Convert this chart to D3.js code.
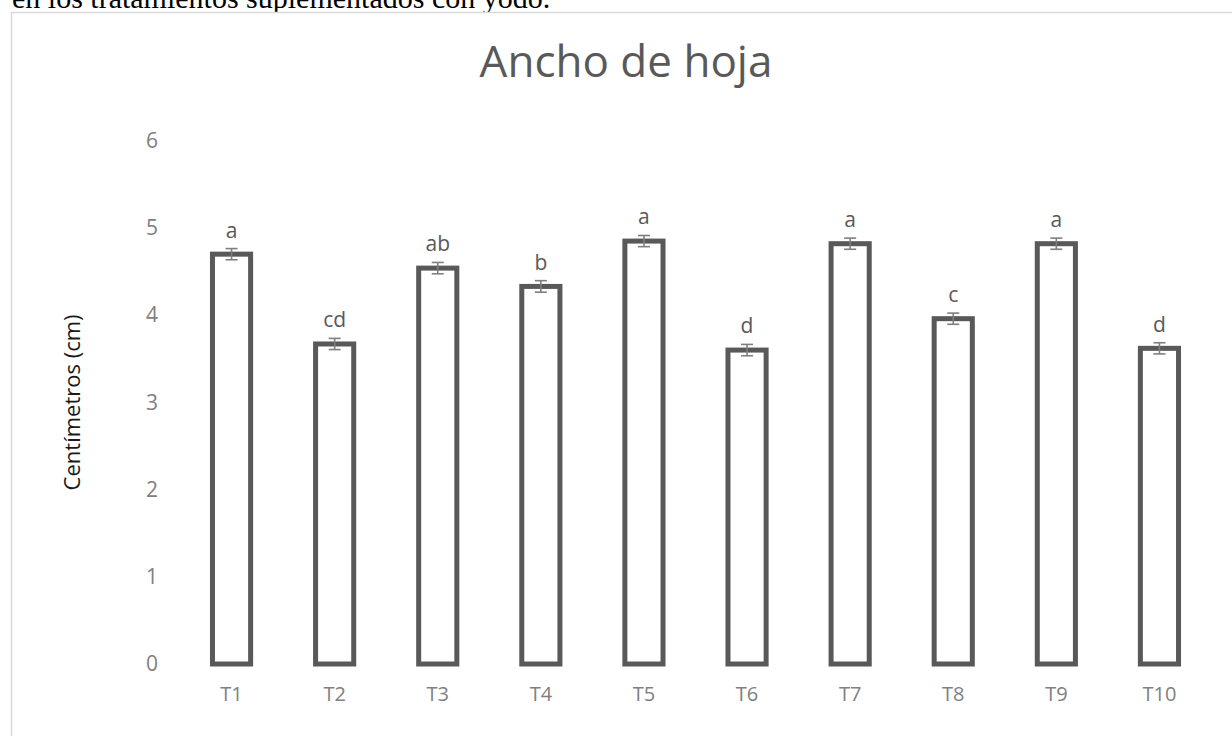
<!DOCTYPE html>
<html>
<head>
<meta charset="utf-8">
<script src="https://cdn.jsdelivr.net/npm/d3@7"></script>
<style>
  html, body { margin: 0; padding: 0; background: #fff; overflow: hidden; }
  svg { display: block; }
</style>
</head>
<body>
<svg id="chart" width="1232" height="736"></svg>
<script>
// Leaf width per treatment (cm), standard error and significance letters
const categories = ["T1", "T2", "T3", "T4", "T5", "T6", "T7", "T8", "T9", "T10"];
const values = [4.70, 3.67, 4.54, 4.33, 4.85, 3.60, 4.82, 3.96, 4.82, 3.62];
const errors = [0.064, 0.064, 0.065, 0.066, 0.064, 0.065, 0.064, 0.064, 0.064, 0.064];
const letters = ["a", "cd", "ab", "b", "a", "d", "a", "c", "a", "d"];
const yTicks = [0, 1, 2, 3, 4, 5, 6];

const svg = d3.select("#chart");

// Caption line of the surrounding document, clipped at the top
svg.append("text")
  .attr("x", 12).attr("y", 8)
  .attr("font-family", "'Liberation Serif', 'Times New Roman', serif")
  .attr("font-size", 30)
  .attr("fill", "#000")
  .text("en los tratamientos suplementados con yodo.");

// Chart frame
svg.append("rect")
  .attr("x", 11.5).attr("y", 12.5)
  .attr("width", 1240).attr("height", 740)
  .attr("fill", "#fff")
  .attr("stroke", "#d9d9d9")
  .attr("stroke-width", 1.5);

const plot = { left: 180, right: 1211, top: 140.8, bottom: 664 };

const x = d3.scaleBand()
  .domain(categories)
  .range([plot.left, plot.right])
  .paddingInner(0.63)
  .paddingOuter(0.315);

const y = d3.scaleLinear()
  .domain([0, 6])
  .range([plot.bottom, plot.top]);

const fontSans = "'Open Sans', 'Noto Sans', sans-serif";

// Title
svg.append("text")
  .attr("x", 626).attr("y", 77)
  .attr("text-anchor", "middle")
  .attr("font-family", fontSans)
  .attr("font-size", 44)
  .attr("fill", "#595959")
  .text("Ancho de hoja");

// Y axis (labels only)
const yAxis = d3.axisLeft(y).tickValues(yTicks).tickSize(0).tickPadding(22).tickFormat(d3.format("d"));
const gy = svg.append("g")
  .attr("transform", `translate(${plot.left},0)`)
  .call(yAxis);
gy.select(".domain").remove();
gy.selectAll("text")
  .attr("font-family", fontSans)
  .attr("font-size", 21)
  .attr("fill", "#808080");

// X axis (labels only)
const xAxis = d3.axisBottom(x).tickSize(0).tickPadding(23);
const gx = svg.append("g")
  .attr("transform", `translate(0,${plot.bottom})`)
  .call(xAxis);
gx.select(".domain").remove();
gx.selectAll("text")
  .attr("font-family", fontSans)
  .attr("font-size", 20)
  .attr("fill", "#808080");

// Y axis title
svg.append("text")
  .attr("transform", `translate(80,${(plot.top + plot.bottom) / 2}) rotate(-90)`)
  .attr("text-anchor", "middle")
  .attr("font-family", fontSans)
  .attr("font-size", 22)
  .attr("fill", "#1a1a1a")
  .text("Centímetros (cm)");

const data = categories.map((c, i) => ({ c, v: values[i], e: errors[i], l: letters[i] }));

// Outlined bars
svg.append("g").selectAll("rect")
  .data(data)
  .join("rect")
  .attr("x", d => x(d.c))
  .attr("y", d => y(d.v))
  .attr("width", x.bandwidth())
  .attr("height", d => y(0) - y(d.v))
  .attr("fill", "#fff")
  .attr("stroke", "#595959")
  .attr("stroke-width", 5);

// Error bars
const eg = svg.append("g").attr("stroke", "#7f7f7f").attr("stroke-width", 1.6);
const cap = 6;
data.forEach(d => {
  const cx = x(d.c) + x.bandwidth() / 2;
  const y1 = y(d.v + d.e), y0 = y(d.v - d.e);
  eg.append("line").attr("x1", cx).attr("x2", cx).attr("y1", y1).attr("y2", y0);
  eg.append("line").attr("x1", cx - cap).attr("x2", cx + cap).attr("y1", y1).attr("y2", y1);
  eg.append("line").attr("x1", cx - cap).attr("x2", cx + cap).attr("y1", y0).attr("y2", y0);
});

// Significance letters
svg.append("g").selectAll("text")
  .data(data)
  .join("text")
  .attr("x", d => x(d.c) + x.bandwidth() / 2)
  .attr("y", d => y(d.v + d.e) - 11)
  .attr("text-anchor", "middle")
  .attr("font-family", fontSans)
  .attr("font-size", 21)
  .attr("fill", "#595959")
  .text(d => d.l);
</script>
</body>
</html>
